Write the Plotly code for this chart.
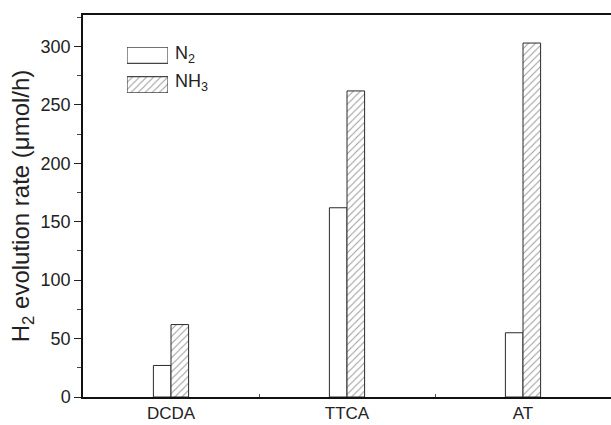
import plotly.graph_objects as go

# H2 evolution rates of carbon nitride made from three precursors,
# calcined under N2 or NH3 atmosphere
precursors = ["DCDA", "TTCA", "AT"]
rate_n2 = [27, 162, 55]
rate_nh3 = [62, 262, 303]
series_names = ["N<sub>2</sub>", "NH<sub>3</sub>"]

FONT = "Liberation Sans, Arial, sans-serif"
EDGE = "#2a2a2a"
HATCH = dict(shape="/", fgcolor="#333333", bgcolor="white", size=5, solidity=0.2)

fig = go.Figure()
fig.add_trace(go.Bar(
    x=precursors, y=rate_n2, name=series_names[0],
    marker=dict(color="white", line=dict(color=EDGE, width=1)),
    showlegend=False,
))
fig.add_trace(go.Bar(
    x=precursors, y=rate_nh3, name=series_names[1],
    marker=dict(color="white", line=dict(color=EDGE, width=1), pattern=HATCH),
    showlegend=False,
))

# Legend swatches drawn as wide boxes on a small overlay axis
fig.add_trace(go.Bar(
    x=[1], y=[0], orientation="h", width=0.55, xaxis="x2", yaxis="y2",
    marker=dict(color="white", line=dict(color="#444", width=1.2)),
    showlegend=False, hoverinfo="skip",
))
fig.add_trace(go.Bar(
    x=[1], y=[1], orientation="h", width=0.55, xaxis="x2", yaxis="y2",
    marker=dict(color="white", line=dict(color="#444", width=1.2), pattern=HATCH),
    showlegend=False, hoverinfo="skip",
))
legend_text_y = [0.897, 0.822]
for name, ty in zip(series_names, legend_text_y):
    fig.add_annotation(
        x=0.170, y=ty, xref="paper", yref="paper", text=name, showarrow=False,
        xanchor="left", yanchor="middle",
        font=dict(family=FONT, size=18, color="#222"),
    )

fig.update_layout(
    width=611, height=425,
    margin=dict(l=83, r=0, t=15, b=28),
    paper_bgcolor="white", plot_bgcolor="white",
    barmode="group", bargap=0.8, bargroupgap=0,
    font=dict(family=FONT, color="#222"),
    xaxis=dict(
        type="category", range=[-0.5, 2.5],
        showline=True, linecolor="#111", linewidth=1.5, mirror=True,
        ticks="inside", tickson="boundaries", ticklen=3, tickcolor="#555",
        tickfont=dict(size=17, family=FONT, color="#222"),
        showgrid=False, zeroline=False,
    ),
    yaxis=dict(
        range=[0, 327], tickvals=[0, 50, 100, 150, 200, 250, 300],
        showline=True, linecolor="#111", linewidth=1.5, mirror=False,
        ticks="outside", ticklen=7, tickwidth=1.2, tickcolor="#222",
        minor=dict(dtick=25, ticks="outside", ticklen=4, tickcolor="#444", tickwidth=1),
        tickfont=dict(size=18, family=FONT, color="#222"),
        showgrid=False, zeroline=False,
        title=dict(text="H<sub>2</sub> evolution rate (μmol/h)",
                   font=dict(size=24, family=FONT, color="#222"), standoff=4),
    ),
    xaxis2=dict(domain=[0.0833, 0.161], range=[0, 1], anchor="y2", visible=False),
    yaxis2=dict(domain=[0.796, 0.916], range=[1.276, -0.276], anchor="x2", visible=False),
)

fig.write_html("out.html")
